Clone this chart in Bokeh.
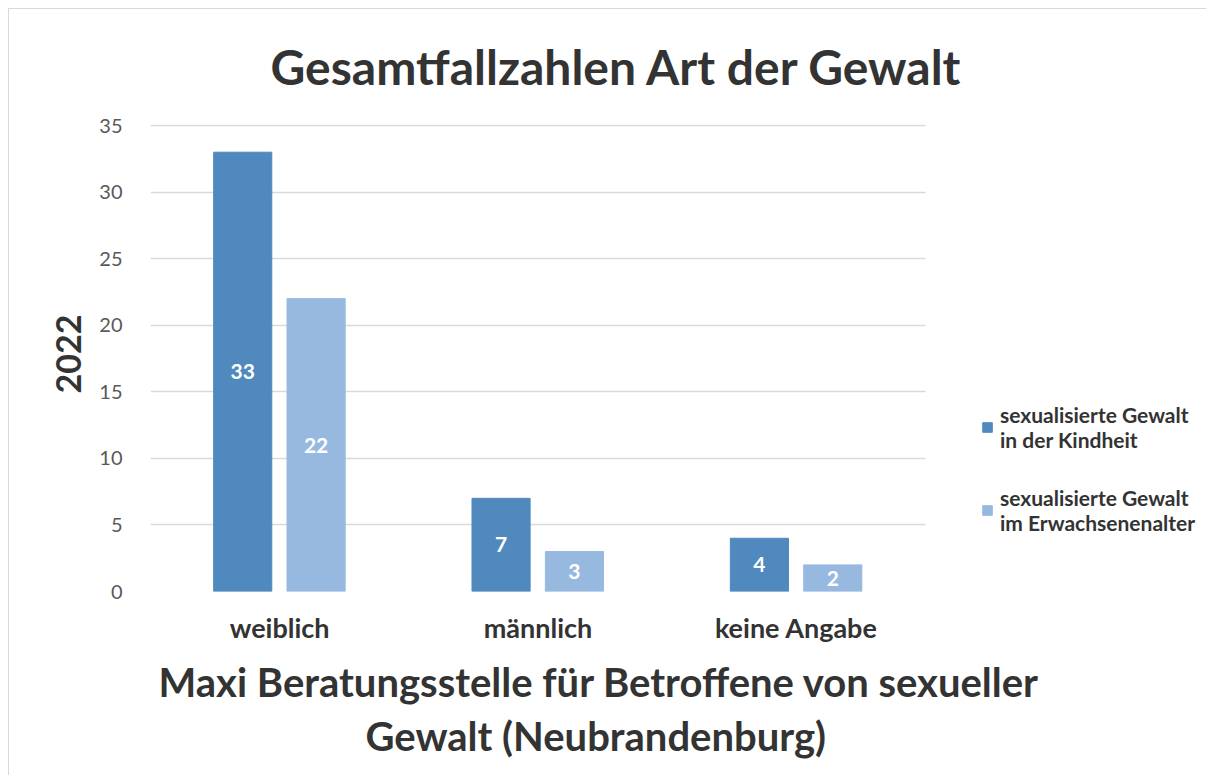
from bokeh.plotting import figure
from bokeh.models import ColumnDataSource, Range1d, Legend, LegendItem, LabelSet, FixedTicker, Title
from bokeh.embed import file_html
from bokeh.resources import INLINE
from bokeh.core.properties import value

categories = ["weiblich", "männlich", "keine Angabe"]
kindheit = [33, 7, 4]
erwachsen = [22, 3, 2]
series_names = ["sexualisierte Gewalt\nin der Kindheit", "sexualisierte Gewalt\nim Erwachsenenalter"]
y_ticks = [0, 5, 10, 15, 20, 25, 30, 35]

FONT = "Lato"
DARK = "#4F89BD"
LIGHT = "#97B9E0"
TXT = "#333333"

n = len(categories)
centers = [i + 0.5 for i in range(n)]
OFF_K, OFF_E, BAR_W = -0.143, 0.141, 0.225

src = ColumnDataSource(dict(
    xk=[c + OFF_K for c in centers], xe=[c + OFF_E for c in centers],
    k=kindheit, e=erwachsen,
    k_mid=[v / 2 for v in kindheit], e_mid=[v / 2 for v in erwachsen],
    k_lab=[str(v) for v in kindheit], e_lab=[str(v) for v in erwachsen],
))

# frame: 141 px from left of the canvas to its right edge (1057 px); categories fill the first 775 px
p = figure(x_range=Range1d(0, n * 1057 / 775), y_range=(0, 35.08),
           width=1198, height=767, output_backend="svg", toolbar_location=None,
           min_border_left=141, min_border_right=0, min_border_top=115, min_border_bottom=185)

r1 = p.vbar(x="xk", top="k", width=BAR_W, source=src, fill_color=DARK, line_color=DARK)
r2 = p.vbar(x="xe", top="e", width=BAR_W, source=src, fill_color=LIGHT, line_color=LIGHT)

for xcol, col, lab in (("xk", "k_mid", "k_lab"), ("xe", "e_mid", "e_lab")):
    p.add_layout(LabelSet(x=xcol, y=col, text=lab, source=src,
                          text_align="center", text_baseline="middle", text_color="white",
                          text_font=value(FONT), text_font_style="bold", text_font_size="21px"))

p.outline_line_color = None
p.xgrid.grid_line_color = None
p.ygrid.grid_line_color = "#D9D9D9"
p.ygrid.grid_line_width = 1.3
p.ygrid.cross_bounds = (0, n)
p.yaxis.ticker = FixedTicker(ticks=y_ticks)
p.yaxis.axis_line_color = None
p.yaxis.major_tick_line_color = None
p.yaxis.minor_tick_line_color = None
p.yaxis.major_label_text_font = FONT
p.yaxis.major_label_text_font_size = "20px"
p.yaxis.major_label_text_color = "#595959"
p.yaxis.major_label_standoff = 22
p.xaxis.ticker = FixedTicker(ticks=centers)
p.xaxis.major_label_overrides = {c: name for c, name in zip(centers, categories)}
p.xaxis.axis_line_color = None
p.xaxis.major_tick_line_color = None
p.xaxis.minor_tick_line_color = None
p.xaxis.major_label_text_font = FONT
p.xaxis.major_label_text_font_style = "bold"
p.xaxis.major_label_text_font_size = "27px"
p.xaxis.major_label_text_color = TXT
p.xaxis.major_label_standoff = 13

def title(text, size, place, align="left", offset=0, standoff=10, valign="bottom"):
    t = Title(text=text, align=align, offset=offset, standoff=standoff, text_font=FONT,
              vertical_align=valign, text_font_style="bold", text_font_size=size, text_color=TXT)
    p.add_layout(t, place)

title("Gesamtfallzahlen Art der Gewalt", "48px", "above", offset=120, standoff=55, valign="top")
title("Maxi Beratungsstelle für Betroffene von sexueller", "40px", "below", offset=8, standoff=19)
title("Gewalt (Neubrandenburg)", "40px", "below", offset=215, standoff=-12)
title("2022", "34px", "left", align="left", offset=198, standoff=32)

legend = Legend(items=[LegendItem(label=series_names[0], renderers=[r1]),
                       LegendItem(label=series_names[1], renderers=[r2])],
                location=(831, 56), orientation="vertical")
legend.border_line_color = None
legend.background_fill_alpha = 0
legend.padding = 0
legend.margin = 0
legend.spacing = 33
legend.glyph_width = 12
legend.glyph_height = 12
legend.label_standoff = 7
legend.label_text_font = FONT
legend.label_text_font_style = "bold"
legend.label_text_font_size = "21px"
legend.label_text_color = TXT
p.add_layout(legend)

p.styles = {"border-left": "1px solid #D9D9D9", "border-top": "1px solid #D9D9D9",
            "margin-left": "8px", "margin-top": "8px"}

open("out.html", "w").write(file_html(p, INLINE))
